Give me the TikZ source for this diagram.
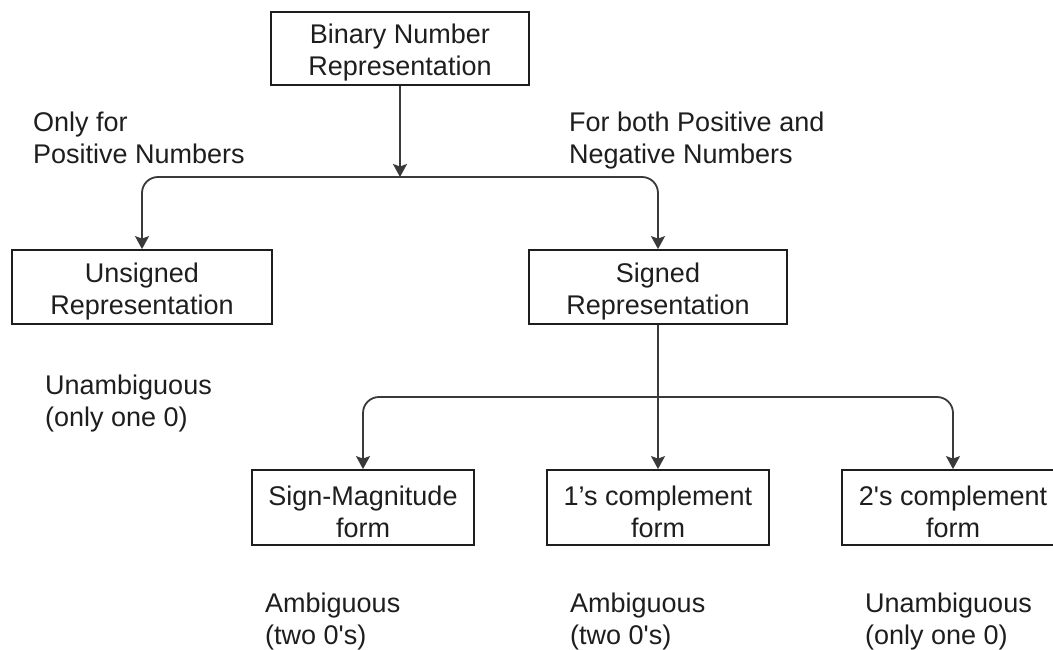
\documentclass[tikz,border=0pt]{standalone}
\usepackage{fontspec}
\setmainfont{Liberation Sans}[Ligatures=TeXOff]
\usetikzlibrary{arrows.meta}
\definecolor{ink}{HTML}{1E1E1E}
\definecolor{wire}{HTML}{3A3A3A}
\newcommand\myStrut{\rule{0pt}{28pt}}
\begin{document}
\begin{tikzpicture}[x=1pt,y=-1pt,
  every node/.style={font=\fontsize{27}{32}\selectfont, text=ink},
  box/.style={draw=ink, line width=1.8pt, inner sep=0pt, align=center},
  lbl/.style={inner sep=0pt, align=left, anchor=north west},
  arr/.style={draw=wire, line width=1.8pt, -{Stealth[length=13pt,width=14pt,inset=2.5pt]}},
  rc/.style={rounded corners=16pt}]
\useasboundingbox (0,0) rectangle (1053,650);
\fill[white] (0,0) rectangle (1053,650);

\node[box, minimum width=258pt, minimum height=73pt] (top) at (400,48.5) {\myStrut Binary Number\\Representation};
\node[box, minimum width=260pt, minimum height=74pt] (uns) at (142,287) {\myStrut Unsigned\\Representation};
\node[box, minimum width=258pt, minimum height=74pt] (sig) at (658,287) {\myStrut Signed\\Representation};
\node[box, minimum width=222pt, minimum height=75pt] (sm) at (363,507.5) {\myStrut Sign-Magnitude\\form};
\node[box, minimum width=222pt, minimum height=75pt] (one) at (658,507.5) {\myStrut 1’s complement\\form};
\node[box, minimum width=222pt, minimum height=75pt] (two) at (953,507.5) {\myStrut 2's complement\\form};

\node[lbl] (lpos) at (33,112) {Only for\\Positive Numbers};
\node[lbl] (lboth) at (569,112) {For both Positive and\\Negative Numbers};
\node[lbl] (luns) at (45,375) {Unambiguous\\(only one 0)};
\node[lbl] (lsm) at (265,593) {Ambiguous\\(two 0's)};
\node[lbl] (lone) at (570,593) {Ambiguous\\(two 0's)};
\node[lbl] (ltwo) at (865,593) {Unambiguous\\(only one 0)};

\coordinate (j1) at (400,177);
\coordinate (j2) at (658,397);

\draw[arr] (top.south) -- (j1);
\draw[arr, rc] (j1) -| (uns.north);
\draw[arr, rc] (j1) -| (sig.north);
\draw[arr] (sig.south) -- (one.north);
\draw[arr, rc] (j2) -| (sm.north);
\draw[arr, rc] (j2) -| (two.north);
\end{tikzpicture}
\end{document}
